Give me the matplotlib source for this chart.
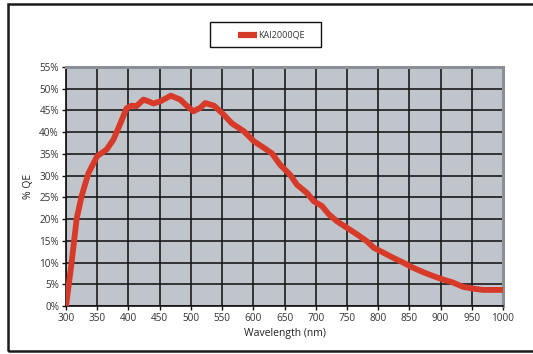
import matplotlib
matplotlib.use("Agg")
import matplotlib.pyplot as plt
from matplotlib.patches import Rectangle
from matplotlib.lines import Line2D
from matplotlib.ticker import FuncFormatter

plt.rcParams['font.family'] = ['Open Sans', 'DejaVu Sans']

wavelength = [300, 309, 317, 325, 336, 350, 365, 376, 387, 397, 405, 413, 424, 432,
              440, 451, 468, 483, 494, 504, 515, 523, 537, 550, 566, 585, 601, 617,
              630, 643, 659, 670, 686, 697, 710, 721, 734, 750, 766, 782, 793, 808,
              824, 840, 856, 872, 888, 904, 920, 936, 952, 968, 984, 1000]
qe = [0.0, 10.0, 20.0, 25.3, 30.6, 34.5, 36.0, 38.3, 42.0, 45.5, 46.1, 46.0, 47.5, 47.1,
      46.6, 47.1, 48.4, 47.5, 46.0, 44.8, 45.6, 46.7, 46.1, 44.4, 42.0, 40.2, 37.9, 36.4,
      35.1, 32.5, 30.2, 27.9, 26.0, 24.1, 23.0, 21.1, 19.5, 18.0, 16.5, 14.9, 13.4, 12.3,
      11.1, 10.0, 8.8, 7.8, 6.9, 6.1, 5.4, 4.4, 4.0, 3.7, 3.7, 3.7]
series_name = "KAI2000QE"
x_ticks = list(range(300, 1001, 50))
y_ticks = list(range(0, 56, 5))

W, H = 533, 354
fig = plt.figure(figsize=(W/100, H/100), dpi=100)
ax = fig.add_axes([66/W, 1-306/H, (503-66)/W, (306-67)/H])

line_color = '#d83a2a'
ax.set_facecolor('#c0c5cc')
ax.plot(wavelength, qe, color=line_color, lw=4.2, solid_capstyle='butt', zorder=3)
ax.set_xlim(300, 1000)
ax.set_ylim(0, 55)
ax.set_xticks(x_ticks)
ax.set_yticks(y_ticks)
ax.yaxis.set_major_formatter(FuncFormatter(lambda v, p: f"{int(v)}%"))
ax.grid(True, color='#1a1a1a', lw=1.2, zorder=1)
ax.set_axisbelow(True)
for s in ['top', 'right']:
    ax.spines[s].set_color('#8a9096')
    ax.spines[s].set_linewidth(2.2)
for s in ['left', 'bottom']:
    ax.spines[s].set_color('#111111')
    ax.spines[s].set_linewidth(1.2)
ax.tick_params(axis='both', labelsize=7.2, colors='#111111', labelcolor='#333333',
               length=3, width=1.0, direction='out', pad=2)
ax.set_xlabel("Wavelength (nm)", fontsize=7.5, color='#222222', labelpad=3)
ax.set_ylabel("% QE", fontsize=7.5, color='#222222', labelpad=4)

# legend drawn as a box with a handle and a label
fig.patches.append(Rectangle((210/W, 1-47/H), (321-210)/W, (47-22)/H,
                             transform=fig.transFigure, fill=True, facecolor='white',
                             edgecolor='#111111', lw=1.0, zorder=5))
fig.lines.append(Line2D([238/W, 257/W], [1-35/H, 1-35/H], transform=fig.transFigure,
                        color=line_color, lw=4.5, solid_capstyle='butt', zorder=6))
fig.text(258/W, 1-35/H, series_name, fontsize=6.5, color='#333333', va='center',
         ha='left', zorder=6)

frame = Rectangle((8/W, 1-351/H), 530/W, (351-4)/H, transform=fig.transFigure,
                  fill=False, edgecolor='#1a1a1a', lw=1.8, zorder=10)
fig.patches.append(frame)

fig.savefig("out.png", dpi=100)
